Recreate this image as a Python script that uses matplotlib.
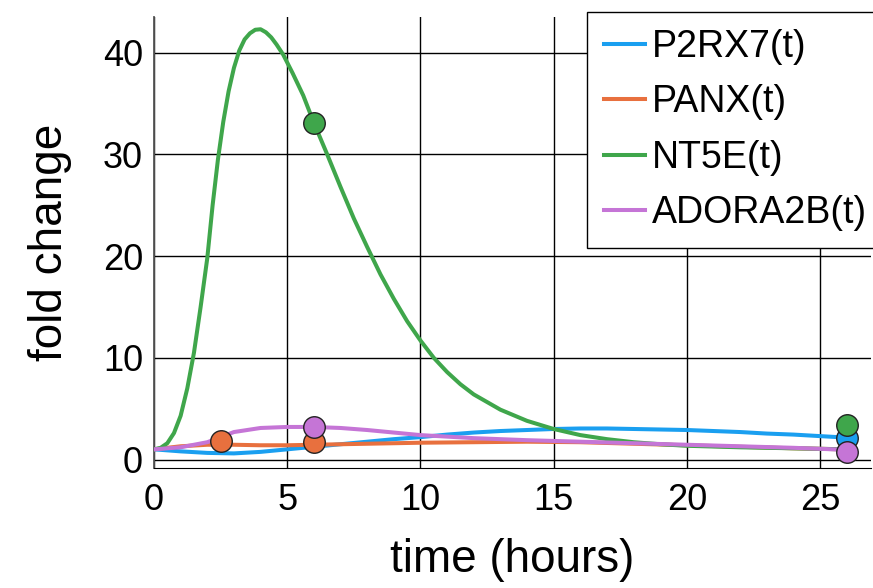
import matplotlib
matplotlib.use('Agg')
import matplotlib.pyplot as plt

plt.rcParams['font.family'] = ['Liberation Sans', 'DejaVu Sans']

# curves
t_p2rx7 = [0, 1, 2, 3, 4, 5, 6, 7, 8, 9, 10, 11, 12, 13, 14, 15, 16, 17, 18, 19, 20, 21, 22, 23, 24, 25, 26]
p2rx7 = [1.0, 0.8, 0.65, 0.6, 0.75, 1.0, 1.25, 1.5, 1.75, 2.0, 2.2, 2.45, 2.65, 2.8, 2.9, 3.0, 3.05, 3.05, 3.0,
         2.95, 2.9, 2.8, 2.7, 2.55, 2.45, 2.3, 2.15]

t_panx = [0, 1, 2, 3, 4, 5, 6, 8, 10, 12, 14, 16, 18, 20, 22, 24, 26]
panx = [1.0, 1.3, 1.45, 1.45, 1.4, 1.4, 1.45, 1.55, 1.65, 1.7, 1.75, 1.7, 1.55, 1.4, 1.25, 1.1, 1.0]

t_nt5e = [0, 0.25, 0.5, 0.75, 1.0, 1.25, 1.5, 1.75, 2.0, 2.2, 2.4, 2.6, 2.8, 3.0, 3.2, 3.4, 3.6, 3.8, 4.0,
          4.2, 4.4, 4.6, 4.85, 5.2, 5.6, 6.0, 6.5, 7.0, 7.5, 8.0, 8.5, 9.0, 9.5, 10, 10.5, 11, 11.5, 12,
          13, 14, 15, 16, 17, 18, 19, 20, 22, 24, 26]
nt5e = [1.0, 1.15, 1.6, 2.6, 4.3, 7.0, 10.5, 15, 19.8, 25, 29.5, 33.2, 36.2, 38.5, 40.2, 41.3, 41.9, 42.25, 42.3,
        42.0, 41.5, 40.8, 39.8, 38.0, 35.8, 33.1, 30.0, 26.8, 23.7, 20.9, 18.2, 15.8, 13.6, 11.7, 10.0, 8.6,
        7.4, 6.4, 4.9, 3.8, 3.0, 2.4, 2.0, 1.7, 1.5, 1.35, 1.2, 1.1, 1.0]

t_adora = [0, 1, 2, 3, 4, 5, 6, 7, 8, 10, 12, 14, 16, 18, 20, 22, 24, 26]
adora = [1.0, 1.2, 1.7, 2.7, 3.1, 3.2, 3.2, 3.1, 2.9, 2.4, 2.1, 1.9, 1.75, 1.6, 1.45, 1.3, 1.15, 0.95]

# measured points
pts_p2rx7_t = [26]
pts_p2rx7 = [2.1]
pts_panx_t = [2.5, 6]
pts_panx = [1.8, 1.7]
pts_nt5e_t = [6, 26]
pts_nt5e = [33.1, 3.4]
pts_adora_t = [6, 26]
pts_adora = [3.2, 0.7]

labels = ['P2RX7(t)', 'PANX(t)', 'NT5E(t)', 'ADORA2B(t)']
colors = ['#1a9ff0', '#e8703e', '#3fa64b', '#c575d6']

fig = plt.figure(figsize=(8.73, 5.88), dpi=100)
ax = fig.add_axes([0.1764, 0.204, 0.821, 0.767])

curves = [(t_p2rx7, p2rx7), (t_panx, panx), (t_nt5e, nt5e), (t_adora, adora)]
points = [(pts_p2rx7_t, pts_p2rx7), (pts_panx_t, pts_panx), (pts_nt5e_t, pts_nt5e), (pts_adora_t, pts_adora)]

for (t, y), lab, c in zip(curves, labels, colors):
    ax.plot(t, y, color=c, lw=2.9, label=lab, zorder=3, solid_joinstyle='round')
for (t, y), c in zip(points, colors):
    ax.plot(t, y, 'o', color=c, ms=15.5, mec='#222222', mew=1.0, zorder=4, clip_on=False)

ax.set_xlim(0, 26.9)
ax.set_ylim(-0.84, 43.5)
ax.set_xticks([0, 5, 10, 15, 20, 25])
ax.set_yticks([0, 10, 20, 30, 40])
ax.grid(True, color='black', lw=1.0)
ax.set_axisbelow(True)
ax.tick_params(length=0, labelsize=26)
ax.tick_params(axis='x', pad=11)
ax.tick_params(axis='y', pad=8)
for s in ['top', 'right']:
    ax.spines[s].set_visible(False)
ax.spines['left'].set_color('#555555')
ax.spines['bottom'].set_color('black')
ax.spines['left'].set_linewidth(1.3)

ax.set_xlabel('time (hours)', fontsize=33, labelpad=14)
ax.set_ylabel('fold change', fontsize=33, labelpad=22)

leg = ax.legend(loc='upper left', bbox_to_anchor=(0.672, 0.98), bbox_transform=fig.transFigure,
                fontsize=27, frameon=True, fancybox=False, edgecolor='black', framealpha=1,
                borderaxespad=0, handlelength=1.1, handletextpad=0.2, labelspacing=0.52,
                borderpad=0.45)
leg.get_frame().set_linewidth(1.0)

fig.savefig('out.png', dpi=100)
